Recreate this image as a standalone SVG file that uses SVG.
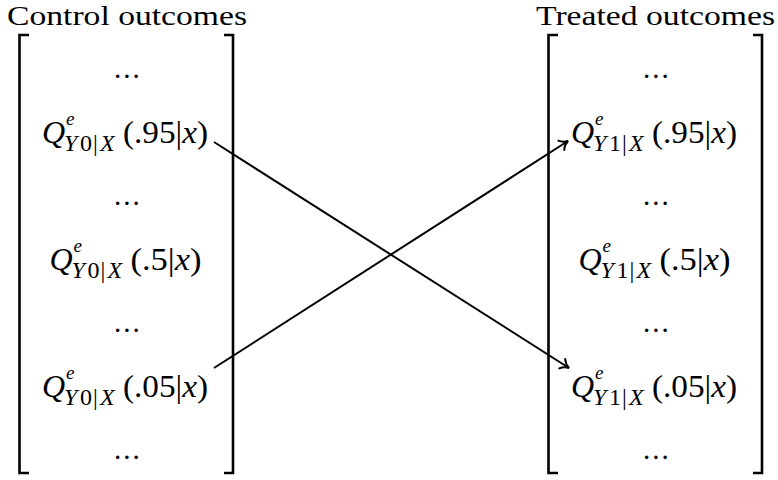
<svg xmlns="http://www.w3.org/2000/svg" width="778" height="480" viewBox="0 0 778 480">
<style>
text{font-family:"Liberation Serif","Times New Roman",serif;fill:#000}
.t{font-size:27px}
.m{font-size:31px}
.q{font-size:32px;font-style:italic}
.s{font-size:24px}
.e{font-size:19px;font-style:italic}
.i{font-style:italic}
.d{font-size:29px;letter-spacing:2px}
.br{fill:none;stroke:#000;stroke-width:2.6;stroke-linecap:butt;stroke-linejoin:miter}
.ar{fill:none;stroke:#000;stroke-width:2}
</style>
<defs>
<marker id="ah" markerUnits="userSpaceOnUse" markerWidth="20" markerHeight="20" refX="0" refY="0" viewBox="-10 -10 20 20" orient="auto">
<path d="M-8,-5.5 C-5.5,-2 -2,-0.5 0,0 C-2,0.5 -5.5,2 -8,5.5" fill="none" stroke="#000" stroke-width="2" stroke-linecap="round"/>
</marker>
</defs>
<rect width="778" height="480" fill="#fff"/>

<g id="title-control"><text class="t" x="7" y="25" textLength="240" lengthAdjust="spacingAndGlyphs">Control outcomes</text></g>
<g id="title-treated"><text class="t" x="536" y="25" textLength="239" lengthAdjust="spacingAndGlyphs">Treated outcomes</text></g>

<g id="control-outcomes">
<path class="br" d="M29,35 H19.5 V473 H29"/>
<path class="br" d="M224,35 H233 V473 H224"/>
<g id="c-dots1"><text class="d" x="114" y="78">...</text></g>
<g id="c-q95">
<text class="q" x="42" y="143">Q</text>
<text class="e" x="66" y="125">e</text>
<text class="s" y="151"><tspan class="i" x="64">Y</tspan><tspan x="80">0</tspan><tspan x="93">|</tspan><tspan class="i" x="100">X</tspan></text>
<text class="m" x="123" y="143" textLength="85" lengthAdjust="spacingAndGlyphs">(.95|<tspan class="i">x</tspan>)</text>
</g>
<g id="c-dots2"><text class="d" x="114" y="205">...</text></g>
<g id="c-q5">
<text class="q" x="49.5" y="270">Q</text>
<text class="e" x="73.5" y="252">e</text>
<text class="s" y="278"><tspan class="i" x="71.5">Y</tspan><tspan x="87.5">0</tspan><tspan x="100.5">|</tspan><tspan class="i" x="107.5">X</tspan></text>
<text class="m" x="130.5" y="270" textLength="71" lengthAdjust="spacingAndGlyphs">(.5|<tspan class="i">x</tspan>)</text>
</g>
<g id="c-dots3"><text class="d" x="114" y="332">...</text></g>
<g id="c-q05">
<text class="q" x="42" y="397">Q</text>
<text class="e" x="66" y="379">e</text>
<text class="s" y="405"><tspan class="i" x="64">Y</tspan><tspan x="80">0</tspan><tspan x="93">|</tspan><tspan class="i" x="100">X</tspan></text>
<text class="m" x="123" y="397" textLength="85" lengthAdjust="spacingAndGlyphs">(.05|<tspan class="i">x</tspan>)</text>
</g>
<g id="c-dots4"><text class="d" x="114" y="459">...</text></g>
</g>

<g id="treated-outcomes">
<path class="br" d="M558,35 H548.5 V473 H558"/>
<path class="br" d="M753,35 H762 V473 H753"/>
<g id="t-dots1"><text class="d" x="643" y="78">...</text></g>
<g id="t-q95">
<text class="q" x="571" y="143">Q</text>
<text class="e" x="595" y="125">e</text>
<text class="s" y="151"><tspan class="i" x="593">Y</tspan><tspan x="609">1</tspan><tspan x="622">|</tspan><tspan class="i" x="629">X</tspan></text>
<text class="m" x="652" y="143" textLength="85" lengthAdjust="spacingAndGlyphs">(.95|<tspan class="i">x</tspan>)</text>
</g>
<g id="t-dots2"><text class="d" x="643" y="205">...</text></g>
<g id="t-q5">
<text class="q" x="578.5" y="270">Q</text>
<text class="e" x="602.5" y="252">e</text>
<text class="s" y="278"><tspan class="i" x="600.5">Y</tspan><tspan x="616.5">1</tspan><tspan x="629.5">|</tspan><tspan class="i" x="636.5">X</tspan></text>
<text class="m" x="659.5" y="270" textLength="71" lengthAdjust="spacingAndGlyphs">(.5|<tspan class="i">x</tspan>)</text>
</g>
<g id="t-dots3"><text class="d" x="643" y="332">...</text></g>
<g id="t-q05">
<text class="q" x="571" y="397">Q</text>
<text class="e" x="595" y="379">e</text>
<text class="s" y="405"><tspan class="i" x="593">Y</tspan><tspan x="609">1</tspan><tspan x="622">|</tspan><tspan class="i" x="629">X</tspan></text>
<text class="m" x="652" y="397" textLength="85" lengthAdjust="spacingAndGlyphs">(.05|<tspan class="i">x</tspan>)</text>
</g>
<g id="t-dots4"><text class="d" x="643" y="459">...</text></g>
</g>

<g id="connectors">
<line class="ar" x1="214" y1="142" x2="569" y2="368" marker-end="url(#ah)"/>
<line class="ar" x1="214" y1="368" x2="568" y2="141" marker-end="url(#ah)"/>
</g>
</svg>
